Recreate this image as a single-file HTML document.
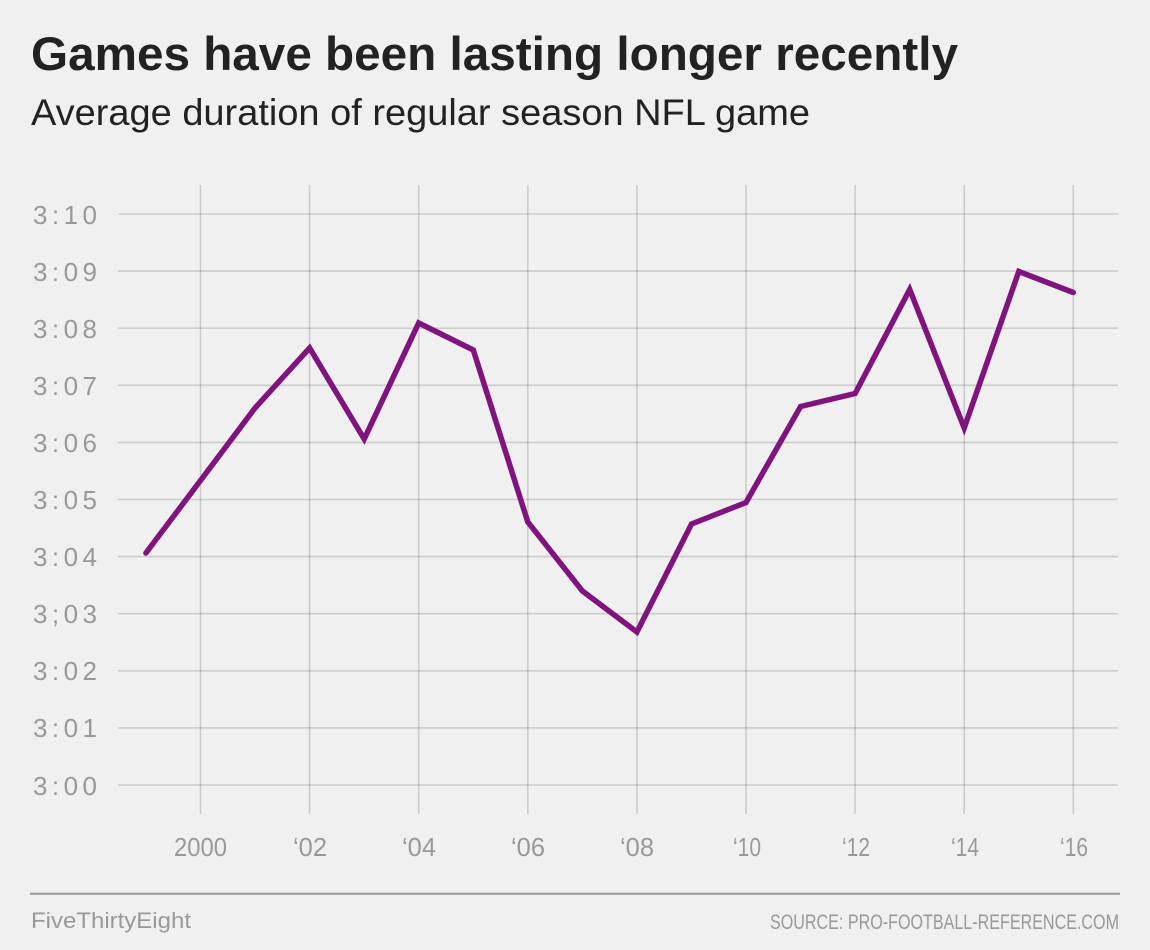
<!DOCTYPE html>
<html>
<head>
<meta charset="utf-8">
<style>
html,body{margin:0;padding:0;background:#f0f0f0;}
svg{display:block;}
text{font-family:"Liberation Sans",sans-serif;}
</style>
</head>
<body>
<svg width="1150" height="950" viewBox="0 0 1150 950" xmlns="http://www.w3.org/2000/svg">
<rect width="1150" height="950" fill="#f0f0f0"/>
<text x="31" y="70" font-size="47" font-weight="bold" fill="#222" textLength="927" lengthAdjust="spacingAndGlyphs">Games have been lasting longer recently</text>
<text x="31" y="125" font-size="37" fill="#222" textLength="779" lengthAdjust="spacingAndGlyphs">Average duration of regular season NFL game</text>

<g stroke="#000" stroke-opacity="0.15" stroke-width="1.6">
<line x1="118" y1="214" x2="1118" y2="214"/>
<line x1="118" y1="271.1" x2="1118" y2="271.1"/>
<line x1="118" y1="328.2" x2="1118" y2="328.2"/>
<line x1="118" y1="385.3" x2="1118" y2="385.3"/>
<line x1="118" y1="442.4" x2="1118" y2="442.4"/>
<line x1="118" y1="499.5" x2="1118" y2="499.5"/>
<line x1="118" y1="556.6" x2="1118" y2="556.6"/>
<line x1="118" y1="613.7" x2="1118" y2="613.7"/>
<line x1="118" y1="670.8" x2="1118" y2="670.8"/>
<line x1="118" y1="727.9" x2="1118" y2="727.9"/>
<line x1="118" y1="785" x2="1118" y2="785"/>
<line x1="200.5" y1="185" x2="200.5" y2="814"/>
<line x1="309.6" y1="185" x2="309.6" y2="814"/>
<line x1="418.7" y1="185" x2="418.7" y2="814"/>
<line x1="527.8" y1="185" x2="527.8" y2="814"/>
<line x1="636.9" y1="185" x2="636.9" y2="814"/>
<line x1="746" y1="185" x2="746" y2="814"/>
<line x1="855.1" y1="185" x2="855.1" y2="814"/>
<line x1="964.2" y1="185" x2="964.2" y2="814"/>
<line x1="1073.3" y1="185" x2="1073.3" y2="814"/>
</g>

<g font-size="26" fill="#999">
<text x="33" y="224" textLength="64" lengthAdjust="spacing">3:10</text>
<text x="33" y="281" textLength="64" lengthAdjust="spacing">3:09</text>
<text x="33" y="338" textLength="64" lengthAdjust="spacing">3:08</text>
<text x="33" y="395" textLength="64" lengthAdjust="spacing">3:07</text>
<text x="33" y="452" textLength="64" lengthAdjust="spacing">3:06</text>
<text x="33" y="509" textLength="64" lengthAdjust="spacing">3:05</text>
<text x="33" y="566" textLength="64" lengthAdjust="spacing">3:04</text>
<text x="33" y="623" textLength="64" lengthAdjust="spacing">3;03</text>
<text x="33" y="680" textLength="64" lengthAdjust="spacing">3:02</text>
<text x="33" y="737" textLength="64" lengthAdjust="spacing">3:01</text>
<text x="33" y="795" textLength="64" lengthAdjust="spacing">3:00</text>
</g>

<g font-size="26" fill="#999">
<text x="174" y="856" textLength="53" lengthAdjust="spacingAndGlyphs">2000</text>
<text x="293" y="856" textLength="34" lengthAdjust="spacingAndGlyphs">‘02</text>
<text x="402" y="856" textLength="34" lengthAdjust="spacingAndGlyphs">‘04</text>
<text x="511" y="856" textLength="34" lengthAdjust="spacingAndGlyphs">‘06</text>
<text x="620" y="856" textLength="34" lengthAdjust="spacingAndGlyphs">‘08</text>
<text x="733" y="856" textLength="28" lengthAdjust="spacingAndGlyphs">‘10</text>
<text x="842" y="856" textLength="28" lengthAdjust="spacingAndGlyphs">‘12</text>
<text x="951" y="856" textLength="28" lengthAdjust="spacingAndGlyphs">‘14</text>
<text x="1060" y="856" textLength="28" lengthAdjust="spacingAndGlyphs">‘16</text>
</g>

<polyline fill="none" stroke="#80137e" stroke-width="5.5" stroke-linecap="round" stroke-linejoin="miter"
points="145.9,553 200.5,480.5 255,408 309.6,348 364.2,439 418.7,323 473.3,350 527.8,522 582.4,591 636.9,632 691.5,524 746,502.5 800.6,406.5 855.1,393.5 909.7,289.5 964.2,428 1018.8,271.5 1073.3,292.5"/>

<line x1="30" y1="893.7" x2="1120" y2="893.7" stroke="#999" stroke-width="2"/>
<text x="31" y="928" font-size="22" fill="#999" textLength="160" lengthAdjust="spacingAndGlyphs">FiveThirtyEight</text>
<text x="770" y="929" font-size="21" fill="#999" textLength="349" lengthAdjust="spacingAndGlyphs">SOURCE: PRO-FOOTBALL-REFERENCE.COM</text>
</svg>
</body>
</html>
